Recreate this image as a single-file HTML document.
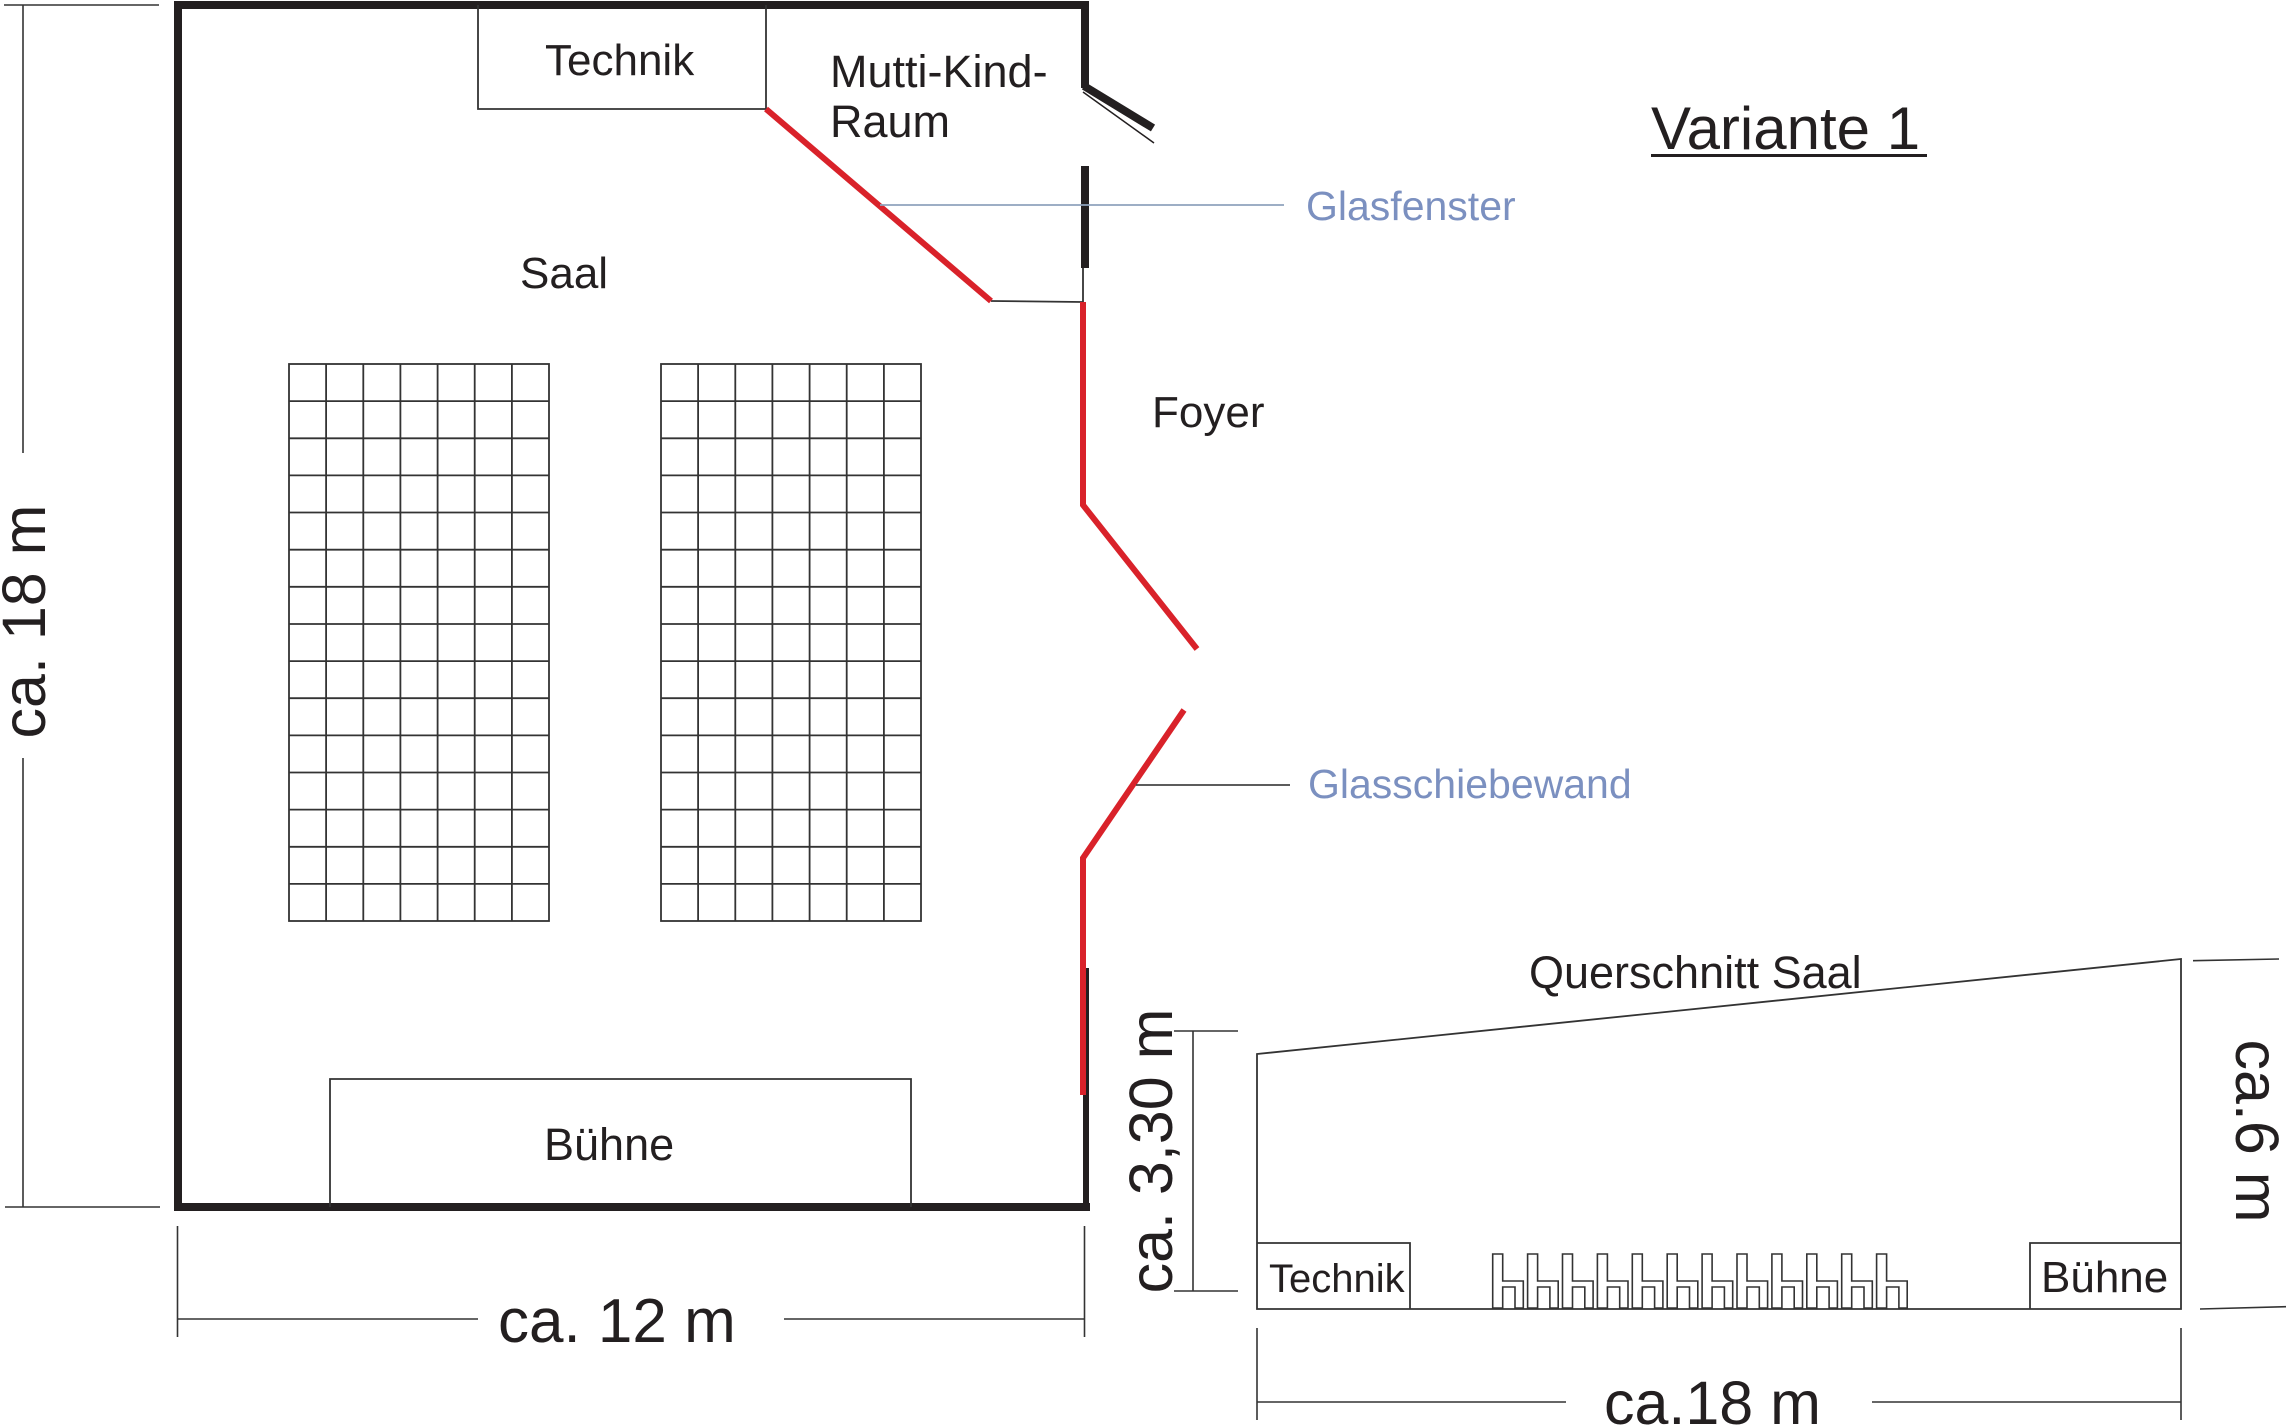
<!DOCTYPE html>
<html>
<head>
<meta charset="utf-8">
<style>
html,body{margin:0;padding:0;background:#fff;}
svg{display:block;}
text{font-family:"Liberation Sans",Arial,sans-serif;fill:#231f20;}
</style>
</head>
<body>
<svg width="2288" height="1426" viewBox="0 0 2288 1426" xmlns="http://www.w3.org/2000/svg">
<rect x="0" y="0" width="2288" height="1426" fill="#fff"/>

<!-- Left dimension (ca. 18 m) -->
<g stroke="#333" stroke-width="1.6" fill="none">
  <line x1="4" y1="5" x2="159" y2="5"/>
  <line x1="5" y1="1207" x2="160" y2="1207"/>
  <line x1="23" y1="5" x2="23" y2="453"/>
  <line x1="23" y1="758" x2="23" y2="1207"/>
</g>
<text transform="translate(45,621.5) rotate(-90)" text-anchor="middle" font-size="61">ca. 18 m</text>

<!-- Bottom dimension (ca. 12 m) -->
<g stroke="#333" stroke-width="1.6" fill="none">
  <line x1="177.5" y1="1226" x2="177.5" y2="1337"/>
  <line x1="1084.5" y1="1226" x2="1084.5" y2="1337"/>
  <line x1="177.5" y1="1319" x2="478" y2="1319"/>
  <line x1="784" y1="1319" x2="1084.5" y2="1319"/>
</g>
<text x="498" y="1342" font-size="62">ca. 12 m</text>

<!-- Outer walls -->
<g stroke="#231f20" stroke-width="8" fill="none" stroke-linecap="square">
  <line x1="178" y1="5" x2="1085" y2="5"/>
  <line x1="178" y1="5" x2="178" y2="1207"/>
  <line x1="178" y1="1207" x2="1086" y2="1207"/>
  <line x1="1085" y1="5" x2="1085" y2="84"/>
</g>
<line x1="1085" y1="166" x2="1085" y2="268" stroke="#231f20" stroke-width="8"/>
<line x1="1086" y1="968" x2="1086" y2="1207" stroke="#231f20" stroke-width="6"/>

<!-- Door leaf -->
<line x1="1084" y1="86" x2="1153" y2="128" stroke="#231f20" stroke-width="8"/>
<line x1="1083" y1="92" x2="1154" y2="143" stroke="#231f20" stroke-width="1.5"/>

<!-- Thin connectors -->
<g stroke="#333" stroke-width="1.8" fill="none">
  <line x1="1083" y1="268" x2="1083" y2="302"/>
  <line x1="991" y1="301" x2="1083" y2="302"/>
</g>

<!-- Technik box (plan) -->
<g stroke="#333" stroke-width="1.8" fill="none">
  <polyline points="478,5 478,109 766,109 766,5"/>
  <!-- Bühne box (plan) -->
  <polyline points="330,1207 330,1079 911,1079 911,1207"/>
</g>

<!-- Red glass walls -->
<g stroke="#d9222a" stroke-width="6" fill="none" stroke-linejoin="miter">
  <line x1="766" y1="109" x2="991" y2="301"/>
  <polyline points="1083,302 1083,505 1197,649"/>
  <polyline points="1184,710 1083,858 1083,1095"/>
</g>

<!-- Leaders -->
<line x1="880" y1="205" x2="1284" y2="205" stroke="#8fa3bd" stroke-width="1.8"/>
<line x1="1136" y1="785" x2="1290" y2="785" stroke="#444" stroke-width="1.8"/>

<!-- Seat grids -->
<g stroke="#333" stroke-width="1.8" fill="none" id="grids">
  <rect x="289" y="364" width="260" height="557"/>
  <rect x="661" y="364" width="260" height="557"/>
  <path d="M326.1 364V921M363.3 364V921M400.4 364V921M437.6 364V921M474.7 364V921M511.9 364V921
           M698.1 364V921M735.3 364V921M772.4 364V921M809.6 364V921M846.7 364V921M883.9 364V921
           M289 401.1H549M289 438.3H549M289 475.4H549M289 512.5H549M289 549.7H549M289 586.8H549M289 624H549M289 661.1H549M289 698.2H549M289 735.4H549M289 772.5H549M289 809.6H549M289 846.8H549M289 883.9H549
           M661 401.1H921M661 438.3H921M661 475.4H921M661 512.5H921M661 549.7H921M661 586.8H921M661 624H921M661 661.1H921M661 698.2H921M661 735.4H921M661 772.5H921M661 809.6H921M661 846.8H921M661 883.9H921"/>
</g>

<!-- Plan labels -->
<text x="545" y="75" font-size="44">Technik</text>
<text x="830" y="87" font-size="45">Mutti-Kind-</text>
<text x="830" y="137" font-size="45">Raum</text>
<text x="520" y="288" font-size="44">Saal</text>
<text x="1152" y="427" font-size="44">Foyer</text>
<text x="544" y="1160" font-size="45">Bühne</text>
<text x="1306" y="220" font-size="41" style="fill:#7b90c0">Glasfenster</text>
<text x="1308" y="798" font-size="41" style="fill:#7b90c0">Glasschiebewand</text>

<!-- Title -->
<text x="1651" y="149" font-size="60">Variante 1</text>
<line x1="1651" y1="155.5" x2="1927" y2="155.5" stroke="#231f20" stroke-width="3"/>

<!-- Cross section -->
<g stroke="#333" stroke-width="1.8" fill="none">
  <polygon points="1257,1054 2181,959 2181,1309 1257,1309"/>
  <polyline points="1257,1243 1410,1243 1410,1309"/>
  <polyline points="2181,1243 2030,1243 2030,1309"/>
</g>
<text x="1529" y="988" font-size="45">Querschnitt Saal</text>
<text x="1269" y="1292" font-size="40">Technik</text>
<text x="2041" y="1292" font-size="44">Bühne</text>

<!-- Chairs -->
<defs>
  <path id="chair" d="M0 1308V1254H10V1281H30.6V1308H22.3V1287H10V1308Z" fill="none" stroke="#333" stroke-width="1.6"/>
</defs>
<use href="#chair" x="1492.7"/>
<use href="#chair" x="1527.6"/>
<use href="#chair" x="1562.5"/>
<use href="#chair" x="1597.4"/>
<use href="#chair" x="1632.3"/>
<use href="#chair" x="1667.2"/>
<use href="#chair" x="1702.1"/>
<use href="#chair" x="1737.0"/>
<use href="#chair" x="1771.9"/>
<use href="#chair" x="1806.8"/>
<use href="#chair" x="1841.7"/>
<use href="#chair" x="1876.6"/>

<!-- Section left dimension -->
<g stroke="#333" stroke-width="1.6" fill="none">
  <line x1="1174" y1="1031" x2="1238" y2="1031"/>
  <line x1="1174" y1="1291" x2="1238" y2="1291"/>
  <line x1="1193" y1="1031" x2="1193" y2="1291"/>
</g>
<text transform="translate(1172,1151) rotate(-90)" text-anchor="middle" font-size="61">ca. 3,30 m</text>

<!-- Section right dimension -->
<g stroke="#333" stroke-width="1.6" fill="none">
  <line x1="2193" y1="960.7" x2="2279" y2="959"/>
  <line x1="2200" y1="1309" x2="2286" y2="1306.7"/>
</g>
<text transform="translate(2236,1131) rotate(90)" text-anchor="middle" font-size="61">ca.6 m</text>

<!-- Section bottom dimension -->
<g stroke="#333" stroke-width="1.6" fill="none">
  <line x1="1257" y1="1328" x2="1257" y2="1420"/>
  <line x1="2181" y1="1328" x2="2181" y2="1420"/>
  <line x1="1257" y1="1402" x2="1566" y2="1402"/>
  <line x1="1872" y1="1402" x2="2181" y2="1402"/>
</g>
<text x="1604" y="1424" font-size="61">ca.18 m</text>
</svg>
</body>
</html>
